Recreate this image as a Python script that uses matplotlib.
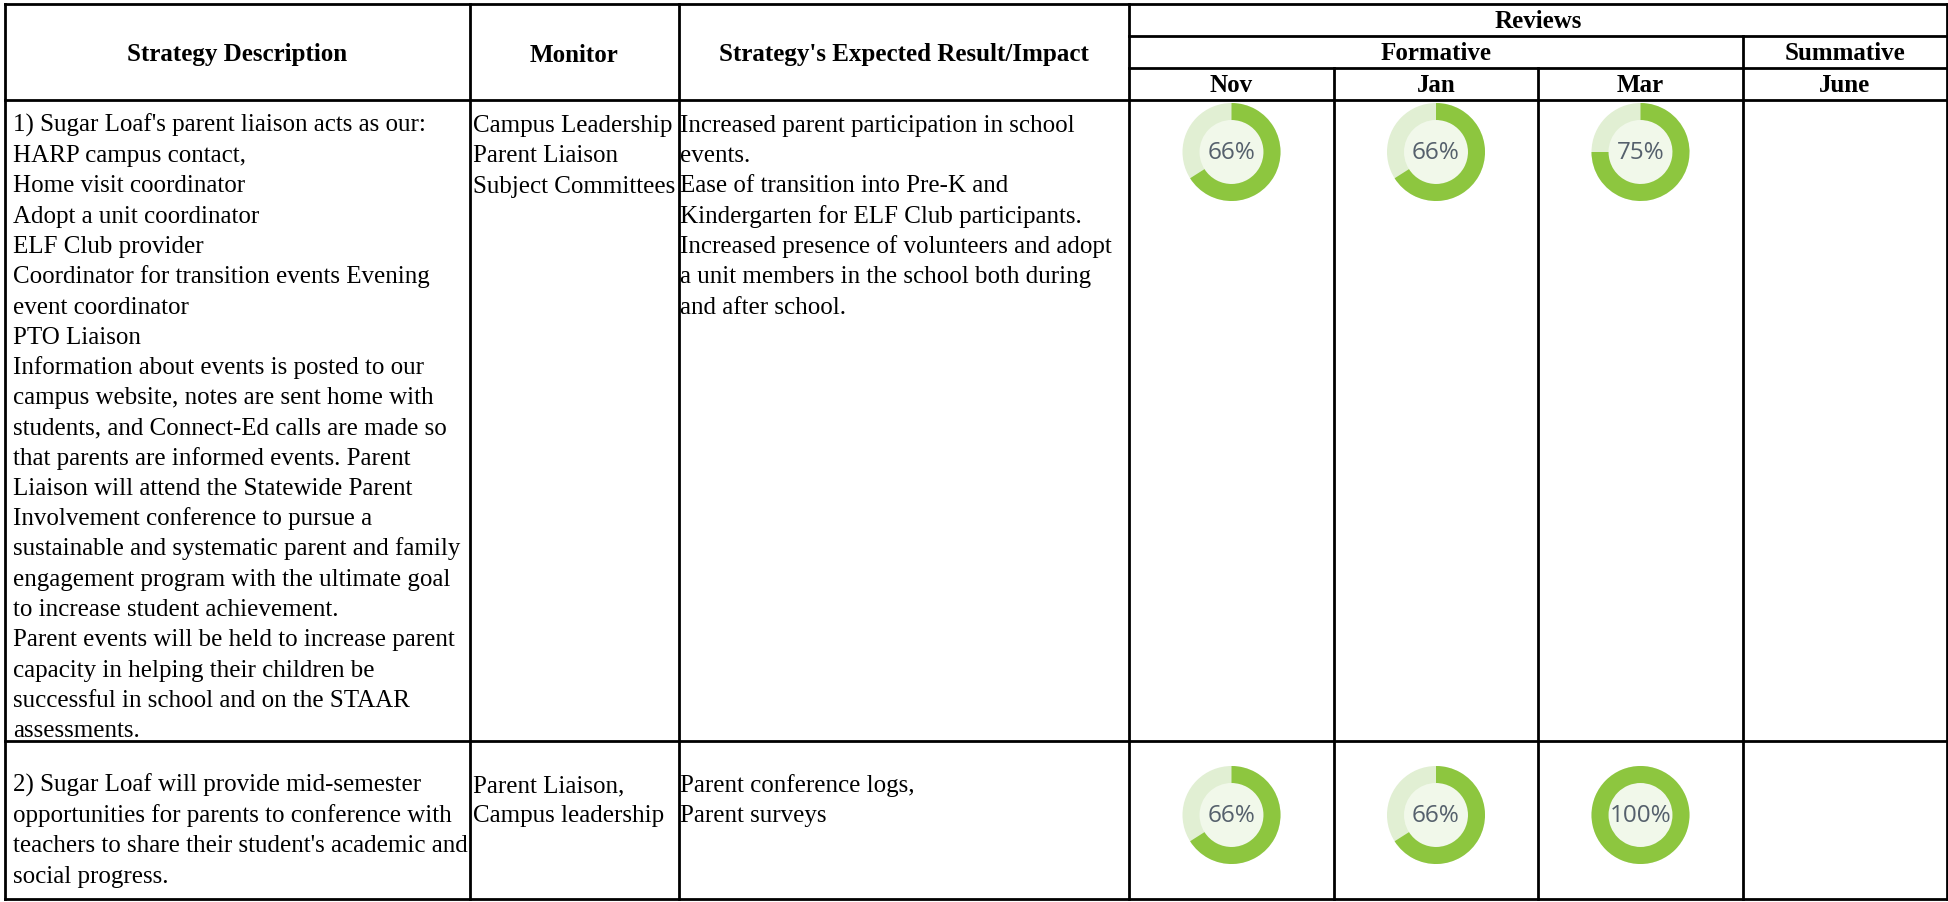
import matplotlib.pyplot as plt
from matplotlib.patches import Wedge, Circle

W, H = 1949, 902

# column headers
headers = ["Strategy Description", "Monitor", "Strategy's Expected Result/Impact"]
months = ["Nov", "Jan", "Mar", "June"]

# row 1
desc1 = ["1) Sugar Loaf's parent liaison acts as our:",
         "HARP campus contact,",
         "Home visit coordinator",
         "Adopt a unit coordinator",
         "ELF Club provider",
         "Coordinator for transition events Evening",
         "event coordinator",
         "PTO Liaison",
         "Information about events is posted to our",
         "campus website, notes are sent home with",
         "students, and Connect-Ed calls are made so",
         "that parents are informed events. Parent",
         "Liaison will attend the Statewide Parent",
         "Involvement conference to pursue a",
         "sustainable and systematic parent and family",
         "engagement program with the ultimate goal",
         "to increase student achievement.",
         "Parent events will be held to increase parent",
         "capacity in helping their children be",
         "successful in school and on the STAAR",
         "assessments."]
monitor1 = ["Campus Leadership", "Parent Liaison", "Subject Committees"]
impact1 = ["Increased parent participation in school",
           "events.",
           "Ease of transition into Pre-K and",
           "Kindergarten for ELF Club participants.",
           "Increased presence of volunteers and adopt",
           "a unit members in the school both during",
           "and after school."]
reviews1 = [66, 66, 75, None]

# row 2
desc2 = ["2) Sugar Loaf will provide mid-semester",
         "opportunities for parents to conference with",
         "teachers to share their student's academic and",
         "social progress."]
monitor2 = ["Parent Liaison,", "Campus leadership"]
impact2 = ["Parent conference logs,", "Parent surveys"]
reviews2 = [66, 66, 100, None]

rows = [(desc1, monitor1, impact1, reviews1), (desc2, monitor2, impact2, reviews2)]

# layout in pixels
xs = [5, 470, 679, 1129, 1334, 1538, 1743, 1947]
y_top, y_rev, y_form, y_head = 4, 36, 68, 100
row_tops = [100, 741]
y_bot = 899
line_h = 30.25
first_base = [32, 51]
donut_dy = [52, 74]

fig = plt.figure(figsize=(W / 100, H / 100), dpi=100)
ax = fig.add_axes([0, 0, 1, 1])
ax.set_xlim(0, W)
ax.set_ylim(H, 0)
ax.axis('off')

lw = 2.0
serif = 'Liberation Serif'


def hline(y, x0, x1):
    ax.plot([x0, x1], [y, y], color='black', lw=lw, solid_capstyle='projecting')


def vline(x, y0, y1):
    ax.plot([x, x], [y0, y1], color='black', lw=lw, solid_capstyle='projecting')


hline(y_top, xs[0], xs[-1])
hline(y_rev, xs[3], xs[-1])
hline(y_form, xs[3], xs[-1])
hline(y_head, xs[0], xs[-1])
hline(row_tops[1], xs[0], xs[-1])
hline(y_bot, xs[0], xs[-1])
for x in xs[:4] + [xs[-1]]:
    vline(x, y_top, y_bot)
vline(xs[6], y_rev, y_bot)
for x in xs[4:6]:
    vline(x, y_form, y_bot)

hfs = 18
dy = 2


def head(x, y, s):
    ax.text(x, y + dy, s, ha='center', va='center', fontsize=hfs,
            fontweight='bold', family=serif)


for i, h in enumerate(headers):
    head((xs[i] + xs[i + 1]) / 2, (y_top + y_head) / 2 + 1, h)
head((xs[3] + xs[7]) / 2, (y_top + y_rev) / 2, "Reviews")
head((xs[3] + xs[6]) / 2, (y_rev + y_form) / 2, "Formative")
head((xs[6] + xs[7]) / 2, (y_rev + y_form) / 2, "Summative")
for i, m in enumerate(months):
    head((xs[3 + i] + xs[4 + i]) / 2, (y_form + y_head) / 2, m)

fs = 18
green = '#8dc63f'
track = '#e1efd3'
inner = '#f1f8ea'
r_out, ring = 49, 17

for r, (desc, mon, imp, rev) in enumerate(rows):
    top = row_tops[r]
    for col, lines, pad in [(0, desc, 8), (1, mon, 3), (2, imp, 1)]:
        for k, s in enumerate(lines):
            ax.text(xs[col] + pad, top + first_base[r] + k * line_h, s, ha='left',
                    va='baseline', fontsize=fs, family=serif)
    for i, v in enumerate(rev):
        if v is None:
            continue
        cx = (xs[3 + i] + xs[4 + i]) / 2
        cy = top + donut_dy[r]
        ax.add_patch(Circle((cx, cy), r_out, color=track, lw=0))
        ax.add_patch(Circle((cx, cy), r_out - ring, color=inner, lw=0))
        ax.add_patch(Wedge((cx, cy), r_out, 270, 270 + 360 * v / 100, width=ring,
                           color=green, lw=0))
        ax.text(cx, cy + 1, f"{v}%", ha='center', va='center', fontsize=17.5,
                family='Open Sans', color='#55606c')

fig.savefig('out.png', dpi=100)
